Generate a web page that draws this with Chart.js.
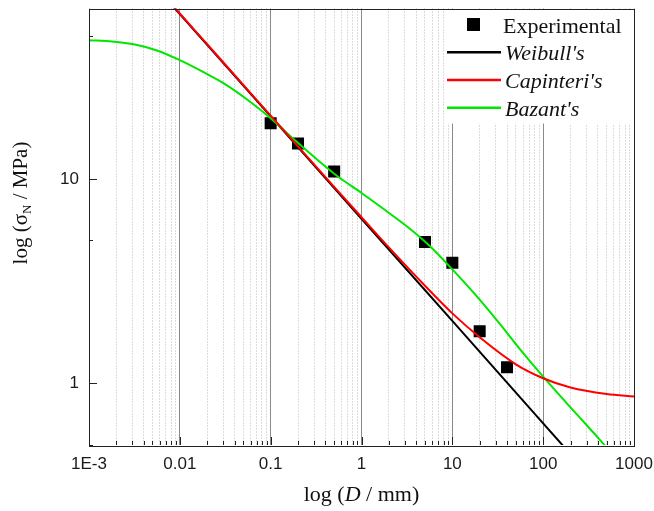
<!DOCTYPE html>
<html>
<head>
<meta charset="utf-8">
<script src="https://cdn.jsdelivr.net/npm/chart.js@4/dist/chart.umd.min.js"></script>
<style>
html,body{margin:0;padding:0;background:#fff;}
canvas{display:block;}
</style>
</head>
<body>
<canvas id="c" width="654" height="511"></canvas>
<script>
// ---- data ----
const expD = [0.1, 0.2, 0.5, 5, 10, 20, 40];
const expS = [18.7, 14.9, 10.85, 4.91, 3.89, 1.80, 1.20];

const weibullD = [0.005, 0.01, 0.1, 1, 10, 100, 200];
const weibullS = [90.2, 63.8, 20.2, 6.38, 2.02, 0.638, 0.451];

const capD = [0.008, 0.01, 0.02, 0.05, 0.1, 0.2, 0.5, 1, 2, 5, 10, 20, 50, 100, 200, 500, 1000];
const capS = [71.9, 64.3, 45.5, 28.8, 20.35, 14.4, 9.13, 6.49, 4.62, 3.00, 2.20, 1.68, 1.24, 1.06, 0.955, 0.888, 0.864];

const bazD = [0.001, 0.0018, 0.0032, 0.0056, 0.01, 0.018, 0.032, 0.056, 0.1, 0.18, 0.32, 0.56, 1, 1.8, 3.2, 5.6, 10, 18, 32, 56, 100, 180, 320, 560, 1000];
const bazS = [47.6, 46.9, 45.3, 42.4, 38.0, 33.3, 28.9, 24.3, 19.8, 15.6, 12.5, 10.2, 8.53, 7.06, 5.83, 4.71, 3.61, 2.71, 2.00, 1.464, 1.079, 0.804, 0.607, 0.460, 0.349];

const seriesLabels = ['Experimental', "Weibull's", "Capinteri's", "Bazant's"];

const xMajorTicks = [0.001, 0.01, 0.1, 1, 10, 100, 1000];
const xTickLabels = ['1E-3', '0.01', '0.1', '1', '10', '100', '1000'];
const yMajorTicks = [1, 10];
const yTickLabels = ['1', '10'];
const yMinorTicks = [0.5, 5, 50];

// ---- helpers ----
const toPts = (xs, ys) => xs.map((x, i) => ({x: x, y: ys[i]}));
const isDecade = v => Math.abs(Math.log10(v) - Math.round(Math.log10(v))) < 1e-9;
const SERIF = '"Liberation Serif", "Times New Roman", serif';
const SANS = '"Liberation Sans", Arial, sans-serif';
const zeroPad = s => { s.paddingTop = 0; s.paddingBottom = 0; s.paddingLeft = 0; s.paddingRight = 0; };

const extras = {
  id: 'extras',
  afterDraw(chart) {
    const ctx = chart.ctx;
    const a = chart.chartArea;
    const xs = chart.scales.x, ys = chart.scales.y;
    ctx.save();
    // inward tick marks
    ctx.strokeStyle = '#222';
    ctx.lineWidth = 1;
    ctx.beginPath();
    xs.ticks.forEach(t => {
      const px = Math.round(xs.getPixelForValue(t.value)) + 0.5;
      const len = isDecade(t.value) ? 8 : 4;
      ctx.moveTo(px, a.bottom);
      ctx.lineTo(px, a.bottom - len);
    });
    ys.ticks.forEach(t => {
      const py = Math.round(ys.getPixelForValue(t.value)) + 0.5;
      const len = isDecade(t.value) ? 8 : 4;
      ctx.moveTo(a.left, py);
      ctx.lineTo(a.left + len, py);
    });
    ctx.stroke();

    // legend
    const lx = 446, ly = a.top + 1, lw = a.right - 446 - 1, lh = 114;
    ctx.fillStyle = '#fff';
    ctx.fillRect(lx, ly, lw, lh);
    const rowY = [24.5, 52.3, 80, 107.7];
    const ds = chart.data.datasets;
    ctx.textBaseline = 'alphabetic';
    ctx.textAlign = 'left';
    ctx.fillStyle = ds[0].backgroundColor;
    ctx.fillRect(467, rowY[0] - 6.5, 13, 13);
    ctx.fillStyle = '#111';
    ctx.font = '22px ' + SERIF;
    ctx.fillText(seriesLabels[0], 503, rowY[0] + 8);
    for (let i = 1; i < 4; i++) {
      ctx.strokeStyle = ds[i].borderColor;
      ctx.lineWidth = 2.5;
      ctx.beginPath();
      ctx.moveTo(447, rowY[i]);
      ctx.lineTo(501, rowY[i]);
      ctx.stroke();
      ctx.fillStyle = '#111';
      ctx.font = 'italic 22px ' + SERIF;
      ctx.fillText(seriesLabels[i], 505, rowY[i] + 8);
    }

    // frame
    ctx.strokeStyle = '#222';
    ctx.lineWidth = 1;
    ctx.strokeRect(Math.round(a.left) + 0.5, Math.round(a.top) + 0.5,
                   Math.round(a.right - a.left), Math.round(a.bottom - a.top));

    // x axis title: log (D / mm)
    ctx.fillStyle = '#111';
    const fN = '22px ' + SERIF, fI = 'italic 22px ' + SERIF;
    const xParts = [['log (', fN], ['D', fI], [' / mm)', fN]];
    let tw = 0;
    xParts.forEach(p => { ctx.font = p[1]; tw += ctx.measureText(p[0]).width; });
    let cx = (a.left + a.right) / 2 - tw / 2;
    xParts.forEach(p => { ctx.font = p[1]; ctx.fillText(p[0], cx, 501); cx += ctx.measureText(p[0]).width; });

    // y axis title: log (σN / MPa)
    ctx.translate(27, 203);
    ctx.rotate(-Math.PI / 2);
    const yf = '21px ' + SERIF, ysub = '13px ' + SERIF;
    const yParts = [['log (\u03C3', yf, 0], ['N', ysub, 4], [' / MPa)', yf, 0]];
    tw = 0;
    yParts.forEach(p => { ctx.font = p[1]; tw += ctx.measureText(p[0]).width; });
    cx = -tw / 2;
    yParts.forEach(p => { ctx.font = p[1]; ctx.fillText(p[0], cx, p[2]); cx += ctx.measureText(p[0]).width; });
    ctx.restore();
  }
};

new Chart(document.getElementById('c'), {
  type: 'scatter',
  data: {
    datasets: [
      {label: seriesLabels[0], data: toPts(expD, expS), pointStyle: 'rect', pointRadius: 8.5,
       backgroundColor: '#000', borderColor: '#000', borderWidth: 0, showLine: false, order: 4},
      {label: seriesLabels[1], data: toPts(weibullD, weibullS), showLine: true, borderColor: '#000',
       borderWidth: 2, pointRadius: 0, order: 3},
      {label: seriesLabels[2], data: toPts(capD, capS), showLine: true, borderColor: '#ff0000',
       borderWidth: 2, pointRadius: 0, cubicInterpolationMode: 'monotone', order: 1},
      {label: seriesLabels[3], data: toPts(bazD, bazS), showLine: true, borderColor: '#00e600',
       borderWidth: 2, pointRadius: 0, cubicInterpolationMode: 'monotone', order: 2}
    ]
  },
  options: {
    responsive: false,
    devicePixelRatio: 1,
    animation: false,
    layout: {padding: {top: 7, right: 20, left: 0, bottom: 0}},
    plugins: {legend: {display: false}, tooltip: {enabled: false}},
    scales: {
      x: {
        type: 'logarithmic', min: 0.001, max: 1000,
        afterBuildTicks: scale => {
          const t = [];
          xMajorTicks.forEach((m, i) => {
            if (i === xMajorTicks.length - 1) { t.push({value: m, major: true}); return; }
            for (let k = 1; k <= 9; k++) t.push({value: +(k * m).toPrecision(6), major: k === 1});
          });
          scale.ticks = t;
        },
        afterFit: s => { s.height = 66; zeroPad(s); },
        grid: {
          drawTicks: false,
          lineWidth: 1,
          color: c => (c.tick && isDecade(c.tick.value)) ? '#8a8a8a' : '#b8b8b8'
        },
        border: {
          display: false,
          dash: c => (c.tick && isDecade(c.tick.value)) ? [] : [1, 2]
        },
        ticks: {
          autoSkip: false, maxRotation: 0, minRotation: 0, padding: 9, color: '#1a1a1a',
          font: {family: SANS, size: 17},
          callback: (v) => {
            const i = xMajorTicks.findIndex(m => Math.abs(m - v) / m < 1e-6);
            return i >= 0 ? xTickLabels[i] : '';
          }
        }
      },
      y: {
        type: 'logarithmic', min: 0.5, max: 68,
        afterBuildTicks: scale => {
          scale.ticks = yMinorTicks.concat(yMajorTicks).sort((p, q) => p - q).map(v => ({value: v, major: isDecade(v)}));
        },
        afterFit: s => { s.width = 89; zeroPad(s); },
        grid: {display: false, drawTicks: false},
        border: {display: false},
        ticks: {
          autoSkip: false, padding: 10, color: '#1a1a1a',
          font: {family: SANS, size: 17},
          callback: (v) => {
            const i = yMajorTicks.findIndex(m => Math.abs(m - v) / m < 1e-6);
            return i >= 0 ? yTickLabels[i] : '';
          }
        }
      }
    }
  },
  plugins: [extras]
});
</script>
</body>
</html>
